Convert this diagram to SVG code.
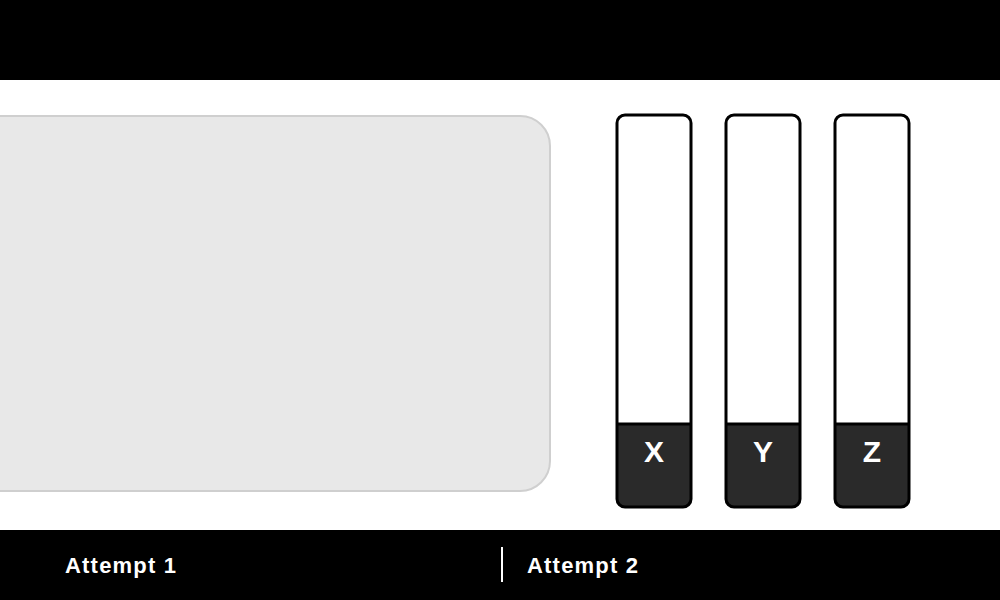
<svg xmlns="http://www.w3.org/2000/svg" width="1000" height="600" viewBox="0 0 1000 600">
<style>
.band{fill:#000}
.tube{fill:#fff;stroke:#000;stroke-width:3}
.cap{fill:#2a2a2a}
.cap-label{font-family:"Liberation Sans",Arial,sans-serif;font-weight:bold;font-size:30px;fill:#fff;text-anchor:middle}
.footer{font-family:"Liberation Sans",Arial,sans-serif;font-weight:bold;font-size:22px;fill:#fff;letter-spacing:1.2px}
</style>
<defs>
<clipPath id="tubeX"><rect x="617" y="115" width="74" height="392" rx="8"/></clipPath>
<clipPath id="tubeY"><rect x="726" y="115" width="74" height="392" rx="8"/></clipPath>
<clipPath id="tubeZ"><rect x="835" y="115" width="74" height="392" rx="8"/></clipPath>
</defs>
<rect x="0" y="0" width="1000" height="600" fill="#fff"/>
<rect class="band" x="0" y="0" width="1000" height="80"/>
<g id="panel">
<rect x="-40" y="116" width="590" height="375" rx="30" fill="#e8e8e8" stroke="#cfcfcf" stroke-width="2"/>
</g>
<g id="tube-x">
<rect x="617" y="115" width="74" height="392" rx="8" fill="#fff"/>
<rect class="cap" x="617" y="424" width="74" height="83" clip-path="url(#tubeX)"/>
<line x1="617" y1="424" x2="691" y2="424" stroke="#000" stroke-width="3"/>
<rect x="617" y="115" width="74" height="392" rx="8" fill="none" stroke="#000" stroke-width="3"/>
<text class="cap-label" x="654" y="462">X</text>
</g>
<g id="tube-y">
<rect x="726" y="115" width="74" height="392" rx="8" fill="#fff"/>
<rect class="cap" x="726" y="424" width="74" height="83" clip-path="url(#tubeY)"/>
<line x1="726" y1="424" x2="800" y2="424" stroke="#000" stroke-width="3"/>
<rect x="726" y="115" width="74" height="392" rx="8" fill="none" stroke="#000" stroke-width="3"/>
<text class="cap-label" x="763" y="462">Y</text>
</g>
<g id="tube-z">
<rect x="835" y="115" width="74" height="392" rx="8" fill="#fff"/>
<rect class="cap" x="835" y="424" width="74" height="83" clip-path="url(#tubeZ)"/>
<line x1="835" y1="424" x2="909" y2="424" stroke="#000" stroke-width="3"/>
<rect x="835" y="115" width="74" height="392" rx="8" fill="none" stroke="#000" stroke-width="3"/>
<text class="cap-label" x="872" y="462">Z</text>
</g>
<g id="footer">
<rect class="band" x="0" y="530" width="1000" height="70"/>
<line x1="502" y1="547" x2="502" y2="582" stroke="#fff" stroke-width="2"/>
<text class="footer" x="65" y="573">Attempt 1</text>
<text class="footer" x="527" y="573">Attempt 2</text>
</g>
</svg>
